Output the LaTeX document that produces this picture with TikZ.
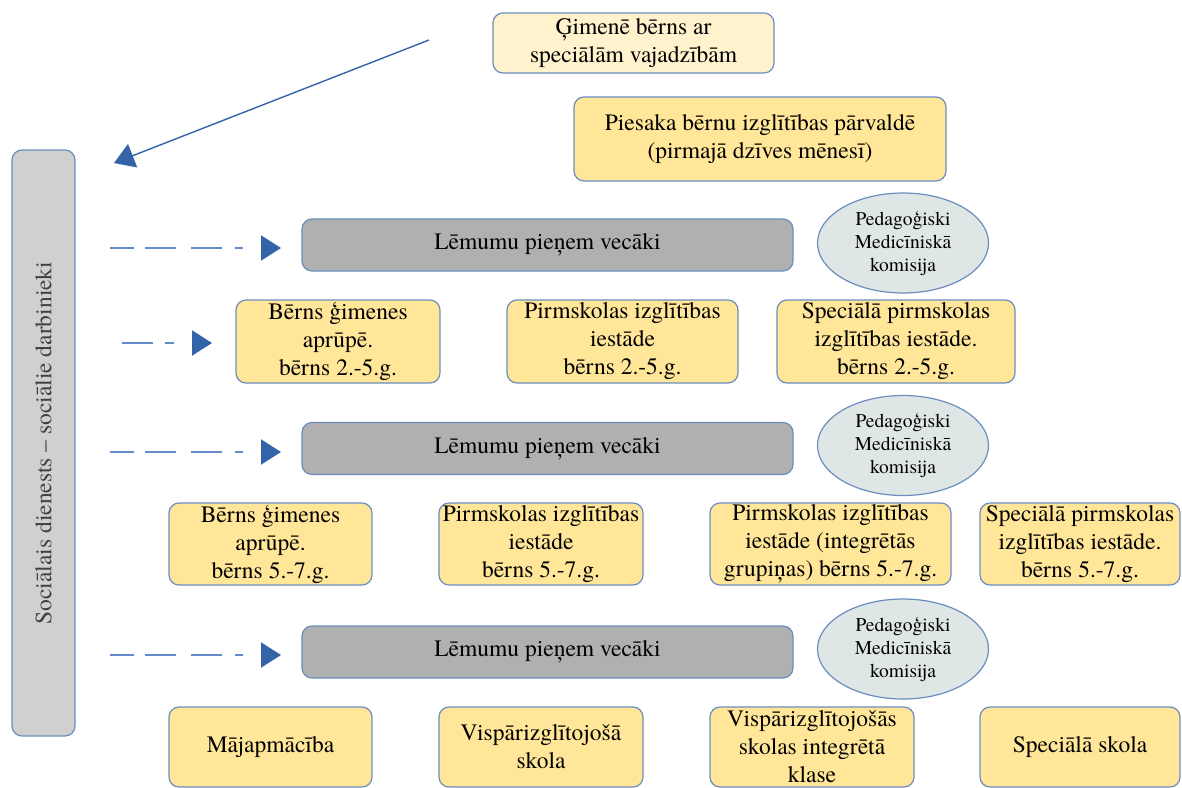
\documentclass[tikz,border=0pt]{standalone}
\usepackage{fontspec}
\setmainfont{texgyretermes}[Extension=.otf, UprightFont=*-regular, BoldFont=*-bold, ItalicFont=*-italic, BoldItalicFont=*-bolditalic]
\usetikzlibrary{arrows.meta,shapes.geometric}
\definecolor{yel}{RGB}{255,230,153}
\definecolor{cream}{RGB}{255,242,204}
\definecolor{bord}{RGB}{108,142,191}
\definecolor{grayA}{RGB}{176,176,176}
\definecolor{grayB}{RGB}{208,208,208}
\definecolor{ellf}{RGB}{222,230,230}
\definecolor{arr}{RGB}{52,100,168}
\definecolor{dashc}{RGB}{100,140,200}
\begin{document}
\begin{tikzpicture}[x=1pt,y=-1pt,
 base/.style={draw=bord, line width=1.2pt, rounded corners=10pt, align=center, inner sep=0pt, font=\fontsize{23.5}{28}\selectfont},
 ybox/.style={base, fill=yel},
 cbox/.style={base, fill=cream},
 lbox/.style={base, fill=grayA, minimum width=491pt, minimum height=52pt},
 barbox/.style={base, fill=grayB, text=black!75},
 ell/.style={ellipse, draw=bord, line width=1.2pt, fill=ellf, align=center, inner sep=0pt, minimum width=171pt, minimum height=100pt, font=\fontsize{19.5}{23}\selectfont},
 tip/.style={-{Triangle[length=20pt,width=25pt,color=arr]}},
 dasharrow/.style={tip, draw=dashc, line width=2pt},
]
\useasboundingbox (0,0) rectangle (1182,787);

\node[cbox, minimum width=281pt, minimum height=60pt] (fam) at (633.5,43) {Ģimenē bērns ar\\speciālām vajadzībām};
\node[ybox, minimum width=372pt, minimum height=84pt] (pies) at (760,139) {Piesaka bērnu izglītības pārvaldē\\(pirmajā dzīves mēnesī)};
\node[barbox, rotate=90, minimum width=586pt, minimum height=63pt] (bar) at (43.5,443) {Sociālais dienests – sociālie darbinieki};

\node[lbox] (lem1) at (547.5,245) {Lēmumu pieņem vecāki};
\node[ell] (pmk1) at (903,243) {Pedagoģiski\\Medicīniskā\\komisija};

\node[ybox, minimum width=204pt, minimum height=83pt] (r2a) at (338,341.5) {Bērns ģimenes\\aprūpē.\\bērns 2.-5.g.};
\node[ybox, minimum width=231pt, minimum height=83pt] (r2b) at (622.5,341.5) {Pirmskolas izglītības\\iestāde\\bērns 2.-5.g.};
\node[ybox, minimum width=238pt, minimum height=83pt] (r2c) at (896,341.5) {Speciālā pirmskolas\\izglītības iestāde.\\bērns 2.-5.g.};

\node[lbox] (lem2) at (547.5,448.5) {Lēmumu pieņem vecāki};
\node[ell] (pmk2) at (903,445.5) {Pedagoģiski\\Medicīniskā\\komisija};

\node[ybox, minimum width=203pt, minimum height=82pt] (r3a) at (270.5,544) {Bērns ģimenes\\aprūpē.\\bērns 5.-7.g.};
\node[ybox, minimum width=204pt, minimum height=82pt] (r3b) at (541,544) {Pirmskolas izglītības\\iestāde\\bērns 5.-7.g.};
\node[ybox, minimum width=241pt, minimum height=82pt] (r3c) at (830.5,544) {Pirmskolas izglītības\\iestāde (integrētās\\grupiņas) bērns 5.-7.g.};
\node[ybox, minimum width=200pt, minimum height=82pt] (r3d) at (1080,544) {Speciālā pirmskolas\\izglītības iestāde.\\bērns 5.-7.g.};

\node[lbox] (lem3) at (547.5,652) {Lēmumu pieņem vecāki};
\node[ell] (pmk3) at (903,649) {Pedagoģiski\\Medicīniskā\\komisija};

\node[ybox, minimum width=203pt, minimum height=80pt] (r4a) at (270.5,747) {Mājapmācība};
\node[ybox, minimum width=204pt, minimum height=80pt] (r4b) at (541,747) {Vispārizglītojošā\\skola};
\node[ybox, minimum width=204pt, minimum height=80pt] (r4c) at (812,747) {Vispārizglītojošās\\skolas integrētā\\klase};
\node[ybox, minimum width=200pt, minimum height=80pt] (r4d) at (1080,747) {Speciālā skola};

% connectors
\coordinate (d0s) at (429,40);
\coordinate (d0e) at (114,163);
\draw[tip, draw=arr, line width=1.4pt] (d0s) -- (d0e);

\coordinate (d1s) at (110,248);
\coordinate (d1e) at (281,248);
\draw[dasharrow, dash pattern=on 24pt off 11pt on 31pt off 15pt on 31pt off 13pt on 8pt off 40pt] (d1s) -- (d1e);

\coordinate (d2s) at (122,343);
\coordinate (d2e) at (212,343);
\draw[dasharrow, dash pattern=on 31pt off 12pt on 9pt off 40pt] (d2s) -- (d2e);

\coordinate (d3s) at (110,452);
\coordinate (d3e) at (281,452);
\draw[dasharrow, dash pattern=on 24pt off 11pt on 31pt off 15pt on 31pt off 13pt on 8pt off 40pt] (d3s) -- (d3e);

\coordinate (d4s) at (110,655);
\coordinate (d4e) at (281,655);
\draw[dasharrow, dash pattern=on 24pt off 11pt on 31pt off 15pt on 31pt off 13pt on 8pt off 40pt] (d4s) -- (d4e);
\end{tikzpicture}
\end{document}
